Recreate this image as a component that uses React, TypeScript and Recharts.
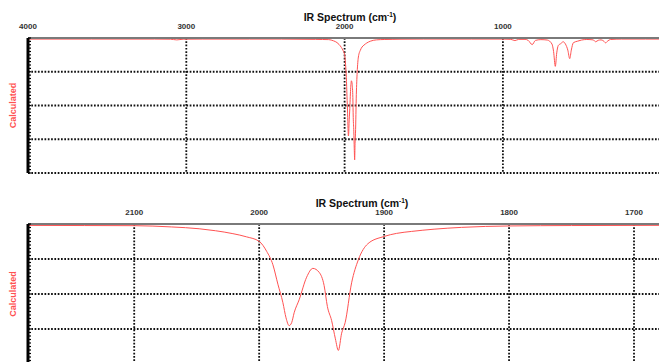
import React from "react";
import { Line, LineChart, ReferenceLine, XAxis, YAxis } from "recharts";

// Calculated IR spectrum: full range on top, the carbonyl region zoomed below.
// Same spectrum drives both panels; the zoom panel just clips its x domain.

const wavenumbers = [
  4000, 3600, 3200, 3100, 3060, 3020, 2900, 2600, 2400, 2185, 2140, 2100, 2070,
  2048, 2035, 2021, 2010, 2000, 1994, 1989, 1985, 1981, 1978.5, 1976, 1974,
  1972, 1968, 1962, 1957, 1952, 1948, 1945.4, 1942, 1939, 1936.6, 1934, 1931.2,
  1926, 1920.6, 1913, 1900, 1890, 1878, 1860, 1838, 1800, 1750, 1700, 1650,
  1500, 1200, 1000, 950, 924, 900, 860, 840, 815, 795, 760, 720, 690, 680, 669,
  660, 650, 635, 619, 605, 590, 578, 568, 555, 530, 503, 470, 430, 414, 398,
  380, 365, 351, 338, 320, 250, 100, 14,
];

const calculated = [
  99.2, 99.2, 99.2, 99.1, 98.6, 99.1, 99.2, 99.2, 99.2, 99.0, 98.9, 98.8, 97.9,
  96.6, 95.2, 93.1, 90.8, 87.6, 80.5, 70.9, 57, 43.8, 33, 27.4, 29.5,
  36.6, 45.9, 62, 68.3, 65.5, 56, 41.1, 31, 18, 9.7, 22, 29.5,
  58, 74.5, 85.9, 91.1, 93.3, 94.7, 96.3, 97.6, 98.6, 98.9, 99.0, 99.1,
  99.2, 99.2, 99.2, 99.0, 98.1, 99.0, 99.0, 98.2, 95.1, 98.2, 98.8, 98.5, 95.5, 90, 79,
  89, 94.5, 95.8, 97.2, 95.5, 91, 84.7, 91, 96.5, 97.6, 98.5, 98.9, 98.6, 97.2, 98.3,
  98.6, 97.9, 96.4, 97.8, 98.9, 99.2, 99.2, 99.2,
];

const overviewDomain = [14, 4000];
const overviewTicks = [4000, 3000, 2000, 1000];
const zoomDomain = [1680, 2185];
const zoomTicks = [2100, 2000, 1900, 1800, 1700];
const gridValues = [0, 25, 50, 75, 100];
const minorTicks = Array.from({ length: 41 }, (_, i) => i * 2.5);

const data = wavenumbers.map((w, i) => ({ wavenumber: w, calculated: calculated[i] }));

const FONT = "'Liberation Sans', Arial, Helvetica, sans-serif";
const RED = "#ff5252";
const DOTS = { stroke: "#111", strokeWidth: 1.8, strokeDasharray: "1.7 1.6" };

// Short inward tick on the thick left axis (no labels in the reference).
function MinorTick({ x, y }: { x?: number; y?: number }) {
  if (x == null || y == null) return null;
  return <line x1={x} x2={x + 3} y1={y} y2={y} stroke="#000" strokeWidth={1.2} />;
}

function SpectrumPanel({
  top,
  height,
  domain,
  ticks,
  titleCenter,
}: {
  top: number;
  height: number;
  domain: number[];
  ticks: number[];
  titleCenter: number;
}) {
  return (
    <div style={{ position: "absolute", left: 0, top, width: 659, height }}>
      <div
        style={{
          position: "absolute",
          top: 10,
          left: titleCenter - 100,
          width: 200,
          textAlign: "center",
          fontSize: 10.5,
          fontWeight: "bold",
          lineHeight: "14px",
          color: "#111",
        }}
      >
        IR Spectrum (cm<sup style={{ fontSize: 6.5, lineHeight: 0 }}>-1</sup>)
      </div>
      <LineChart
        width={659}
        height={height}
        data={data}
        margin={{ top: 0, right: 0, bottom: 1, left: 0 }}
      >
        <XAxis
          dataKey="wavenumber"
          type="number"
          orientation="top"
          reversed
          domain={domain}
          ticks={ticks}
          interval={0}
          height={38}
          allowDataOverflow
          tickLine={false}
          tickMargin={3}
          axisLine={{ stroke: "#7a7a7a", strokeWidth: 2 }}
          tick={{ fontSize: 8, fontWeight: "bold", fill: "#333", fontFamily: FONT }}
        />
        <YAxis
          type="number"
          domain={[0, 100]}
          ticks={minorTicks}
          interval={0}
          width={28}
          tickSize={0}
          tickMargin={0}
          tickLine={false}
          tick={<MinorTick />}
          axisLine={{ stroke: "#000", strokeWidth: 3 }}
          label={{
            value: "Calculated",
            angle: -90,
            position: "insideLeft",
            offset: 13,
            style: {
              fontSize: 9,
              fontWeight: "bold",
              fill: RED,
              fontFamily: FONT,
              textAnchor: "middle",
            },
          }}
        />
        {gridValues.map((v) => (
          <ReferenceLine key={`h-${v}`} y={v} {...DOTS} />
        ))}
        {ticks.map((t) => (
          <ReferenceLine key={`v-${t}`} x={t} {...DOTS} />
        ))}
        <Line
          type="monotone"
          dataKey="calculated"
          stroke={RED}
          strokeWidth={1}
          dot={false}
          isAnimationActive={false}
        />
      </LineChart>
    </div>
  );
}

export default function App() {
  return (
    <div
      style={{
        position: "fixed",
        left: 0,
        top: 0,
        width: 659,
        height: 362,
        overflow: "hidden",
        background: "#fff",
        fontFamily: FONT,
      }}
    >
      <SpectrumPanel
        top={0}
        height={174}
        domain={overviewDomain}
        ticks={overviewTicks}
        titleCenter={350}
      />
      <SpectrumPanel
        top={186}
        height={179}
        domain={zoomDomain}
        ticks={zoomTicks}
        titleCenter={362}
      />
    </div>
  );
}
